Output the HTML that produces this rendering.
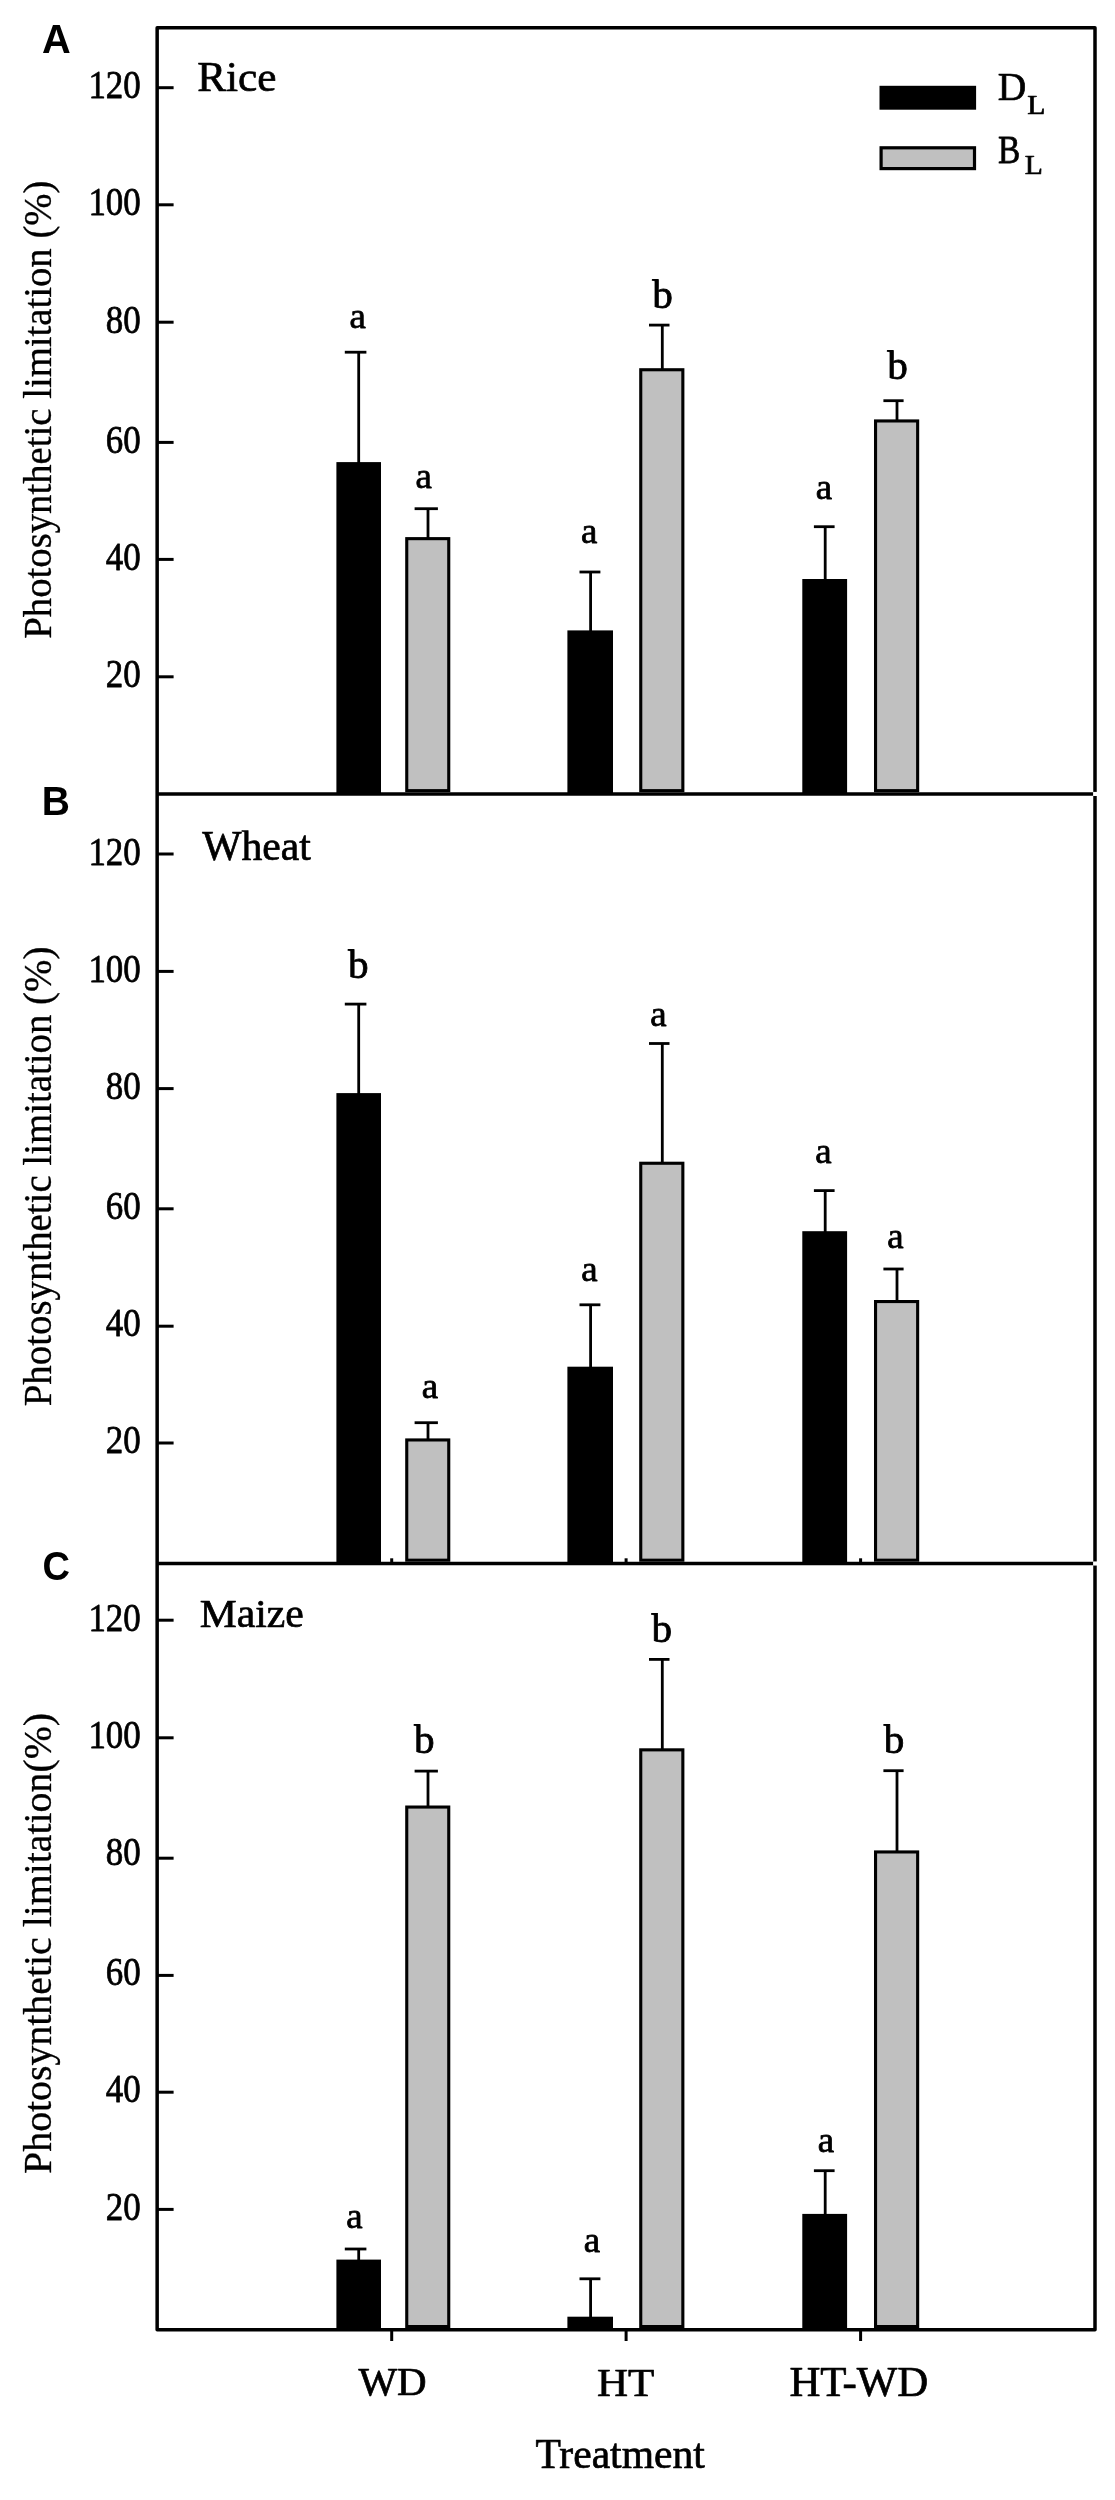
<!DOCTYPE html>
<html><head><meta charset="utf-8"><title>Photosynthetic limitation</title>
<style>
html,body{margin:0;padding:0;background:#fff;}
body{width:1115px;height:2500px;overflow:hidden;font-family:"Liberation Serif",serif;}
svg{display:block;filter:blur(0.65px);}
</style></head><body>
<svg width="1115" height="2500" viewBox="0 0 1115 2500">
<rect width="1115" height="2500" fill="#fff"/>
<g>
<rect x="336.4" y="462.1" width="44.6" height="331.8" fill="#000"/>
<rect x="406.75" y="538.65" width="42" height="252" fill="#c0c0c0" stroke="#000" stroke-width="3.1"/>
<rect x="567.4" y="630.4" width="45.6" height="163.5" fill="#000"/>
<rect x="640.75" y="369.75" width="42.1" height="420.9" fill="#c0c0c0" stroke="#000" stroke-width="3.1"/>
<rect x="802.3" y="579" width="44.8" height="214.9" fill="#000"/>
<rect x="875.55" y="420.95" width="42.1" height="369.7" fill="#c0c0c0" stroke="#000" stroke-width="3.1"/>
<rect x="336.4" y="1093.1" width="44.6" height="470.35" fill="#000"/>
<rect x="406.75" y="1439.95" width="42" height="120.25" fill="#c0c0c0" stroke="#000" stroke-width="3.1"/>
<rect x="567.4" y="1366.7" width="45.6" height="196.75" fill="#000"/>
<rect x="640.75" y="1163.25" width="42.1" height="396.95" fill="#c0c0c0" stroke="#000" stroke-width="3.1"/>
<rect x="802.3" y="1231.2" width="44.8" height="332.25" fill="#000"/>
<rect x="875.55" y="1301.55" width="42.1" height="258.65" fill="#c0c0c0" stroke="#000" stroke-width="3.1"/>
<rect x="336.4" y="2259.6" width="44.6" height="70.2" fill="#000"/>
<rect x="406.75" y="1807.05" width="42" height="519.5" fill="#c0c0c0" stroke="#000" stroke-width="3.1"/>
<rect x="567.4" y="2316.7" width="45.6" height="13.1" fill="#000"/>
<rect x="640.75" y="1749.85" width="42.1" height="576.7" fill="#c0c0c0" stroke="#000" stroke-width="3.1"/>
<rect x="802.3" y="2213.9" width="44.8" height="115.9" fill="#000"/>
<rect x="875.55" y="1851.95" width="42.1" height="474.6" fill="#c0c0c0" stroke="#000" stroke-width="3.1"/>
<rect x="879.5" y="85.8" width="96.6" height="23.9" fill="#000"/>
<rect x="881.1" y="147.8" width="93.4" height="20.8" fill="#c0c0c0" stroke="#000" stroke-width="3.2"/>
</g>
<g stroke="#000" fill="none">
<line x1="358.7" y1="352.2" x2="358.7" y2="463.1" stroke-width="2.8"/>
<line x1="344.8" y1="352.2" x2="366.4" y2="352.2" stroke-width="2.8"/>
<line x1="428" y1="508.7" x2="428" y2="538.4" stroke-width="2.8"/>
<line x1="414.6" y1="508.7" x2="437.9" y2="508.7" stroke-width="2.8"/>
<line x1="590.6" y1="572" x2="590.6" y2="631.4" stroke-width="2.8"/>
<line x1="579.5" y1="572" x2="600.4" y2="572" stroke-width="2.8"/>
<line x1="662.3" y1="325.1" x2="662.3" y2="369.5" stroke-width="2.8"/>
<line x1="649" y1="325.1" x2="669.5" y2="325.1" stroke-width="2.8"/>
<line x1="825.2" y1="526.7" x2="825.2" y2="580" stroke-width="2.8"/>
<line x1="813.9" y1="526.7" x2="834.6" y2="526.7" stroke-width="2.8"/>
<line x1="897" y1="400.7" x2="897" y2="420.7" stroke-width="2.8"/>
<line x1="883.4" y1="400.7" x2="903.6" y2="400.7" stroke-width="2.8"/>
<line x1="358.7" y1="1004.1" x2="358.7" y2="1094.1" stroke-width="2.8"/>
<line x1="344.8" y1="1004.1" x2="366.4" y2="1004.1" stroke-width="2.8"/>
<line x1="428" y1="1422.7" x2="428" y2="1439.7" stroke-width="2.8"/>
<line x1="414.6" y1="1422.7" x2="437.9" y2="1422.7" stroke-width="2.8"/>
<line x1="590.6" y1="1304.8" x2="590.6" y2="1367.7" stroke-width="2.8"/>
<line x1="579.5" y1="1304.8" x2="600.4" y2="1304.8" stroke-width="2.8"/>
<line x1="662.3" y1="1043.5" x2="662.3" y2="1163" stroke-width="2.8"/>
<line x1="649" y1="1043.5" x2="669.5" y2="1043.5" stroke-width="2.8"/>
<line x1="825.2" y1="1190.6" x2="825.2" y2="1232.2" stroke-width="2.8"/>
<line x1="813.9" y1="1190.6" x2="834.6" y2="1190.6" stroke-width="2.8"/>
<line x1="897" y1="1269" x2="897" y2="1301.3" stroke-width="2.8"/>
<line x1="883.4" y1="1269" x2="903.6" y2="1269" stroke-width="2.8"/>
<line x1="358.7" y1="2249" x2="358.7" y2="2260.6" stroke-width="2.8"/>
<line x1="344.8" y1="2249" x2="366.4" y2="2249" stroke-width="2.8"/>
<line x1="428" y1="1771.1" x2="428" y2="1806.8" stroke-width="2.8"/>
<line x1="414.6" y1="1771.1" x2="437.9" y2="1771.1" stroke-width="2.8"/>
<line x1="590.6" y1="2278.8" x2="590.6" y2="2317.7" stroke-width="2.8"/>
<line x1="579.5" y1="2278.8" x2="600.4" y2="2278.8" stroke-width="2.8"/>
<line x1="662.3" y1="1659.4" x2="662.3" y2="1749.6" stroke-width="2.8"/>
<line x1="649" y1="1659.4" x2="669.5" y2="1659.4" stroke-width="2.8"/>
<line x1="825.2" y1="2170.7" x2="825.2" y2="2214.9" stroke-width="2.8"/>
<line x1="813.9" y1="2170.7" x2="834.6" y2="2170.7" stroke-width="2.8"/>
<line x1="897" y1="1770.7" x2="897" y2="1851.7" stroke-width="2.8"/>
<line x1="883.4" y1="1770.7" x2="903.6" y2="1770.7" stroke-width="2.8"/>
<rect x="157.15" y="27.65" width="937.85" height="2302.15" fill="none" stroke-linejoin="round" stroke-width="3.5"/>
<line x1="157.15" y1="793.9" x2="1093.4" y2="793.9" stroke-width="3.5"/>
<line x1="157.15" y1="1563.45" x2="1093.4" y2="1563.45" stroke-width="3.5"/>
<line x1="157.15" y1="87.7" x2="173.6" y2="87.7" stroke-width="3"/>
<line x1="157.15" y1="204.8" x2="173.6" y2="204.8" stroke-width="3"/>
<line x1="157.15" y1="322.2" x2="173.6" y2="322.2" stroke-width="3"/>
<line x1="157.15" y1="442.4" x2="173.6" y2="442.4" stroke-width="3"/>
<line x1="157.15" y1="559.4" x2="173.6" y2="559.4" stroke-width="3"/>
<line x1="157.15" y1="676.8" x2="173.6" y2="676.8" stroke-width="3"/>
<line x1="157.15" y1="854" x2="173.6" y2="854" stroke-width="3"/>
<line x1="157.15" y1="971.4" x2="173.6" y2="971.4" stroke-width="3"/>
<line x1="157.15" y1="1088.6" x2="173.6" y2="1088.6" stroke-width="3"/>
<line x1="157.15" y1="1208.8" x2="173.6" y2="1208.8" stroke-width="3"/>
<line x1="157.15" y1="1326.2" x2="173.6" y2="1326.2" stroke-width="3"/>
<line x1="157.15" y1="1443" x2="173.6" y2="1443" stroke-width="3"/>
<line x1="157.15" y1="1620.2" x2="173.6" y2="1620.2" stroke-width="3"/>
<line x1="157.15" y1="1737.8" x2="173.6" y2="1737.8" stroke-width="3"/>
<line x1="157.15" y1="1858.2" x2="173.6" y2="1858.2" stroke-width="3"/>
<line x1="157.15" y1="1975.4" x2="173.6" y2="1975.4" stroke-width="3"/>
<line x1="157.15" y1="2092.2" x2="173.6" y2="2092.2" stroke-width="3"/>
<line x1="157.15" y1="2209.4" x2="173.6" y2="2209.4" stroke-width="3"/>
<line x1="391.7" y1="2329.8" x2="391.7" y2="2341" stroke-width="3"/>
<line x1="391.7" y1="1558.3" x2="391.7" y2="1563.5" stroke-width="3"/>
<line x1="626.1" y1="2329.8" x2="626.1" y2="2341" stroke-width="3"/>
<line x1="626.1" y1="1558.3" x2="626.1" y2="1563.5" stroke-width="3"/>
<line x1="860.6" y1="2329.8" x2="860.6" y2="2341" stroke-width="3"/>
<line x1="860.6" y1="1558.3" x2="860.6" y2="1563.5" stroke-width="3"/>
</g>
<g>
<rect x="1093.1" y="791.9" width="4.9" height="4.1" fill="#fff"/>
<rect x="1093.1" y="1561.45" width="4.9" height="4.1" fill="#fff"/>
</g>
<g fill="#000">
<text stroke="#000" stroke-width="0.7" stroke-linejoin="round" vector-effect="non-scaling-stroke" transform="translate(88.4 98.02) scale(0.3490 0.4100)" font-family='"Liberation Serif", serif' font-size="100">120</text>
<text stroke="#000" stroke-width="0.7" stroke-linejoin="round" vector-effect="non-scaling-stroke" transform="translate(88.4 215.02) scale(0.3490 0.4100)" font-family='"Liberation Serif", serif' font-size="100">100</text>
<text stroke="#000" stroke-width="0.7" stroke-linejoin="round" vector-effect="non-scaling-stroke" transform="translate(105.85 332.62) scale(0.3490 0.4100)" font-family='"Liberation Serif", serif' font-size="100">80</text>
<text stroke="#000" stroke-width="0.7" stroke-linejoin="round" vector-effect="non-scaling-stroke" transform="translate(105.85 452.92) scale(0.3490 0.4100)" font-family='"Liberation Serif", serif' font-size="100">60</text>
<text stroke="#000" stroke-width="0.7" stroke-linejoin="round" vector-effect="non-scaling-stroke" transform="translate(105.85 569.82) scale(0.3490 0.4100)" font-family='"Liberation Serif", serif' font-size="100">40</text>
<text stroke="#000" stroke-width="0.7" stroke-linejoin="round" vector-effect="non-scaling-stroke" transform="translate(105.85 687.12) scale(0.3490 0.4100)" font-family='"Liberation Serif", serif' font-size="100">20</text>
<text stroke="#000" stroke-width="0.7" stroke-linejoin="round" vector-effect="non-scaling-stroke" transform="translate(88.4 864.72) scale(0.3490 0.4100)" font-family='"Liberation Serif", serif' font-size="100">120</text>
<text stroke="#000" stroke-width="0.7" stroke-linejoin="round" vector-effect="non-scaling-stroke" transform="translate(88.4 982.02) scale(0.3490 0.4100)" font-family='"Liberation Serif", serif' font-size="100">100</text>
<text stroke="#000" stroke-width="0.7" stroke-linejoin="round" vector-effect="non-scaling-stroke" transform="translate(105.85 1098.62) scale(0.3490 0.4100)" font-family='"Liberation Serif", serif' font-size="100">80</text>
<text stroke="#000" stroke-width="0.7" stroke-linejoin="round" vector-effect="non-scaling-stroke" transform="translate(105.85 1219.02) scale(0.3490 0.4100)" font-family='"Liberation Serif", serif' font-size="100">60</text>
<text stroke="#000" stroke-width="0.7" stroke-linejoin="round" vector-effect="non-scaling-stroke" transform="translate(105.85 1336.02) scale(0.3490 0.4100)" font-family='"Liberation Serif", serif' font-size="100">40</text>
<text stroke="#000" stroke-width="0.7" stroke-linejoin="round" vector-effect="non-scaling-stroke" transform="translate(105.85 1453.32) scale(0.3490 0.4100)" font-family='"Liberation Serif", serif' font-size="100">20</text>
<text stroke="#000" stroke-width="0.7" stroke-linejoin="round" vector-effect="non-scaling-stroke" transform="translate(88.4 1631.22) scale(0.3490 0.4100)" font-family='"Liberation Serif", serif' font-size="100">120</text>
<text stroke="#000" stroke-width="0.7" stroke-linejoin="round" vector-effect="non-scaling-stroke" transform="translate(88.4 1747.92) scale(0.3490 0.4100)" font-family='"Liberation Serif", serif' font-size="100">100</text>
<text stroke="#000" stroke-width="0.7" stroke-linejoin="round" vector-effect="non-scaling-stroke" transform="translate(105.85 1865.42) scale(0.3490 0.4100)" font-family='"Liberation Serif", serif' font-size="100">80</text>
<text stroke="#000" stroke-width="0.7" stroke-linejoin="round" vector-effect="non-scaling-stroke" transform="translate(105.85 1985.22) scale(0.3490 0.4100)" font-family='"Liberation Serif", serif' font-size="100">60</text>
<text stroke="#000" stroke-width="0.7" stroke-linejoin="round" vector-effect="non-scaling-stroke" transform="translate(105.85 2102.22) scale(0.3490 0.4100)" font-family='"Liberation Serif", serif' font-size="100">40</text>
<text stroke="#000" stroke-width="0.7" stroke-linejoin="round" vector-effect="non-scaling-stroke" transform="translate(105.85 2219.52) scale(0.3490 0.4100)" font-family='"Liberation Serif", serif' font-size="100">20</text>
<text stroke="#000" stroke-width="0.8" stroke-linejoin="round" vector-effect="non-scaling-stroke" transform="translate(349.58 327.8) scale(0.3689 0.3662)" font-family='"Liberation Serif", serif' font-size="100">a</text>
<text stroke="#000" stroke-width="0.8" stroke-linejoin="round" vector-effect="non-scaling-stroke" transform="translate(415.48 487.5) scale(0.3689 0.3662)" font-family='"Liberation Serif", serif' font-size="100">a</text>
<text stroke="#000" stroke-width="0.8" stroke-linejoin="round" vector-effect="non-scaling-stroke" transform="translate(581.08 543.3) scale(0.3689 0.3662)" font-family='"Liberation Serif", serif' font-size="100">a</text>
<text stroke="#000" stroke-width="0.8" stroke-linejoin="round" vector-effect="non-scaling-stroke" transform="translate(652.16 308) scale(0.4123 0.3919)" font-family='"Liberation Serif", serif' font-size="100">b</text>
<text stroke="#000" stroke-width="0.8" stroke-linejoin="round" vector-effect="non-scaling-stroke" transform="translate(815.73 498.9) scale(0.3689 0.3662)" font-family='"Liberation Serif", serif' font-size="100">a</text>
<text stroke="#000" stroke-width="0.8" stroke-linejoin="round" vector-effect="non-scaling-stroke" transform="translate(887.21 379.1) scale(0.4123 0.3919)" font-family='"Liberation Serif", serif' font-size="100">b</text>
<text stroke="#000" stroke-width="0.8" stroke-linejoin="round" vector-effect="non-scaling-stroke" transform="translate(348.01 977.5) scale(0.4123 0.3919)" font-family='"Liberation Serif", serif' font-size="100">b</text>
<text stroke="#000" stroke-width="0.8" stroke-linejoin="round" vector-effect="non-scaling-stroke" transform="translate(421.78 1398.1) scale(0.3689 0.3662)" font-family='"Liberation Serif", serif' font-size="100">a</text>
<text stroke="#000" stroke-width="0.8" stroke-linejoin="round" vector-effect="non-scaling-stroke" transform="translate(581.33 1280.9) scale(0.3689 0.3662)" font-family='"Liberation Serif", serif' font-size="100">a</text>
<text stroke="#000" stroke-width="0.8" stroke-linejoin="round" vector-effect="non-scaling-stroke" transform="translate(650.33 1025.5) scale(0.3689 0.3662)" font-family='"Liberation Serif", serif' font-size="100">a</text>
<text stroke="#000" stroke-width="0.8" stroke-linejoin="round" vector-effect="non-scaling-stroke" transform="translate(815.33 1163.3) scale(0.3689 0.3662)" font-family='"Liberation Serif", serif' font-size="100">a</text>
<text stroke="#000" stroke-width="0.8" stroke-linejoin="round" vector-effect="non-scaling-stroke" transform="translate(887.33 1247.6) scale(0.3689 0.3662)" font-family='"Liberation Serif", serif' font-size="100">a</text>
<text stroke="#000" stroke-width="0.8" stroke-linejoin="round" vector-effect="non-scaling-stroke" transform="translate(346.13 2227.6) scale(0.3689 0.3662)" font-family='"Liberation Serif", serif' font-size="100">a</text>
<text stroke="#000" stroke-width="0.8" stroke-linejoin="round" vector-effect="non-scaling-stroke" transform="translate(414.06 1753) scale(0.4123 0.3919)" font-family='"Liberation Serif", serif' font-size="100">b</text>
<text stroke="#000" stroke-width="0.8" stroke-linejoin="round" vector-effect="non-scaling-stroke" transform="translate(583.73 2251.5) scale(0.3689 0.3662)" font-family='"Liberation Serif", serif' font-size="100">a</text>
<text stroke="#000" stroke-width="0.8" stroke-linejoin="round" vector-effect="non-scaling-stroke" transform="translate(651.51 1642) scale(0.4123 0.3919)" font-family='"Liberation Serif", serif' font-size="100">b</text>
<text stroke="#000" stroke-width="0.8" stroke-linejoin="round" vector-effect="non-scaling-stroke" transform="translate(817.68 2152) scale(0.3689 0.3662)" font-family='"Liberation Serif", serif' font-size="100">a</text>
<text stroke="#000" stroke-width="0.8" stroke-linejoin="round" vector-effect="non-scaling-stroke" transform="translate(883.81 1753) scale(0.4123 0.3919)" font-family='"Liberation Serif", serif' font-size="100">b</text>
<text stroke="#000" stroke-width="0.7" stroke-linejoin="round" vector-effect="non-scaling-stroke" transform="translate(197.18 91.12) scale(0.4329 0.4284)" font-family='"Liberation Serif", serif' font-size="100">Rice</text>
<text stroke="#000" stroke-width="0.7" stroke-linejoin="round" vector-effect="non-scaling-stroke" transform="translate(202.15 860.02) scale(0.4166 0.4127)" font-family='"Liberation Serif", serif' font-size="100">Wheat</text>
<text stroke="#000" stroke-width="0.7" stroke-linejoin="round" vector-effect="non-scaling-stroke" transform="translate(199.72 1627.05) scale(0.4168 0.3970)" font-family='"Liberation Serif", serif' font-size="100">Maize</text>
<text stroke="#000" stroke-width="0.7" stroke-linejoin="round" vector-effect="non-scaling-stroke" transform="translate(358.45 2395.26) scale(0.4095 0.3940)" font-family='"Liberation Serif", serif' font-size="100">WD</text>
<text stroke="#000" stroke-width="0.7" stroke-linejoin="round" vector-effect="non-scaling-stroke" transform="translate(596.99 2396.14) scale(0.4308 0.4091)" font-family='"Liberation Serif", serif' font-size="100">HT</text>
<text stroke="#000" stroke-width="0.7" stroke-linejoin="round" vector-effect="non-scaling-stroke" transform="translate(789.39 2396.12) scale(0.4288 0.4164)" font-family='"Liberation Serif", serif' font-size="100">HT-WD</text>
<text stroke="#000" stroke-width="0.7" stroke-linejoin="round" vector-effect="non-scaling-stroke" transform="translate(535.43 2468.22) scale(0.4157 0.4273)" font-family='"Liberation Serif", serif' font-size="100">Treatment</text>
<text stroke="#000" stroke-width="0.7" stroke-linejoin="round" vector-effect="non-scaling-stroke" transform="translate(997.86 99.75) scale(0.3955 0.4030)" font-family='"Liberation Serif", serif' font-size="100">D</text>
<text stroke="#000" stroke-width="0.7" stroke-linejoin="round" vector-effect="non-scaling-stroke" transform="translate(1027.26 114.27) scale(0.2963 0.2833)" font-family='"Liberation Serif", serif' font-size="100">L</text>
<text stroke="#000" stroke-width="0.7" stroke-linejoin="round" vector-effect="non-scaling-stroke" transform="translate(997.98 162.75) scale(0.3333 0.4045)" font-family='"Liberation Serif", serif' font-size="100">B</text>
<text stroke="#000" stroke-width="0.7" stroke-linejoin="round" vector-effect="non-scaling-stroke" transform="translate(1024.76 174.48) scale(0.2963 0.2727)" font-family='"Liberation Serif", serif' font-size="100">L</text>
<text transform="translate(42 52.8) scale(0.3985 0.4100)" font-family='"Liberation Sans", sans-serif' font-size="100" font-weight="bold">A</text>
<text transform="translate(41.76 815.1) scale(0.3903 0.4130)" font-family='"Liberation Sans", sans-serif' font-size="100" font-weight="bold">B</text>
<text transform="translate(42.58 1579.5) scale(0.3803 0.3986)" font-family='"Liberation Sans", sans-serif' font-size="100" font-weight="bold">C</text>
<text stroke="#000" stroke-width="0.3" stroke-linejoin="round" vector-effect="non-scaling-stroke" transform="translate(50.8 638.67) rotate(-90) scale(0.3873 0.3920)" font-family='"Liberation Serif", serif' font-size="100">Photosynthetic limitation (%)</text>
<text stroke="#000" stroke-width="0.3" stroke-linejoin="round" vector-effect="non-scaling-stroke" transform="translate(50.8 1406.28) rotate(-90) scale(0.3886 0.3920)" font-family='"Liberation Serif", serif' font-size="100">Photosynthetic limitation (%)</text>
<text stroke="#000" stroke-width="0.3" stroke-linejoin="round" vector-effect="non-scaling-stroke" transform="translate(50.8 2173.9) rotate(-90) scale(0.3980 0.3920)" font-family='"Liberation Serif", serif' font-size="100">Photosynthetic limitation(%)</text>
</g>
</svg>
</body></html>
